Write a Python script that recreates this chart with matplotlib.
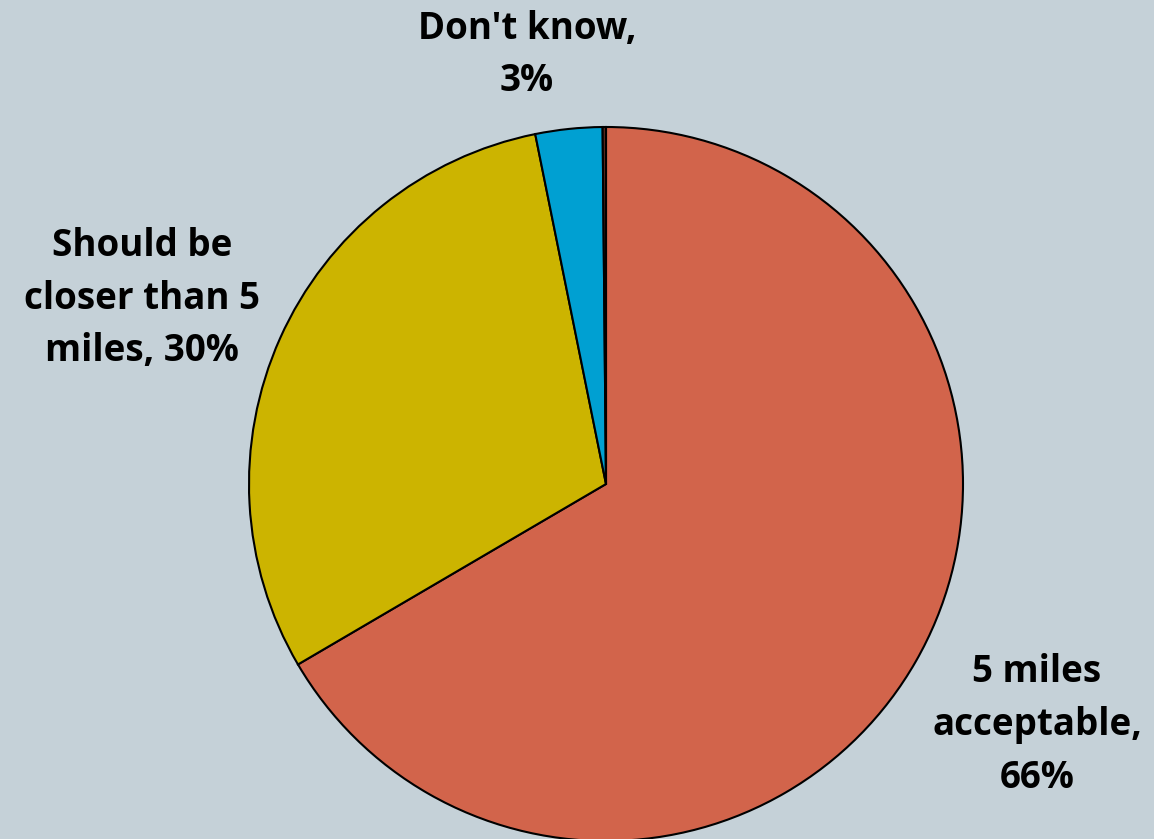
import matplotlib
matplotlib.use("Agg")
import matplotlib.pyplot as plt

# survey answers, clockwise from 12 o'clock
labels = ["5 miles\nacceptable,\n66%", "Should be\ncloser than 5\nmiles, 30%", "Don't know,\n3%", ""]
values = [66, 30, 3, 0.15]
colors = ["#D2644B", "#CCB400", "#00A0D2", "#5A2A20"]

bg = "#C5D1D8"
W, H = 1154, 839

fig = plt.figure(figsize=(W / 100, H / 100), dpi=100, facecolor=bg)
ax = fig.add_axes([0, 0, 1, 1])
ax.set_facecolor(bg)

cx, cy, r = 606, H - 484, 357
ax.pie(values, colors=colors, startangle=90, counterclock=False,
       center=(cx, cy), radius=r,
       wedgeprops=dict(edgecolor="black", linewidth=1.5))
ax.set_xlim(0, W)
ax.set_ylim(0, H)
ax.set_aspect("equal")
ax.axis("off")

font = dict(family="Open Sans", weight="bold", fontsize=26.5,
            ha="center", va="center", linespacing=1.5)
ax.text(1037, H - 725, labels[0], **font)
ax.text(142, H - 299, labels[1], **font)
ax.text(527, H - 55, labels[2], **font)

fig.savefig("out.png", dpi=100, facecolor=bg)
